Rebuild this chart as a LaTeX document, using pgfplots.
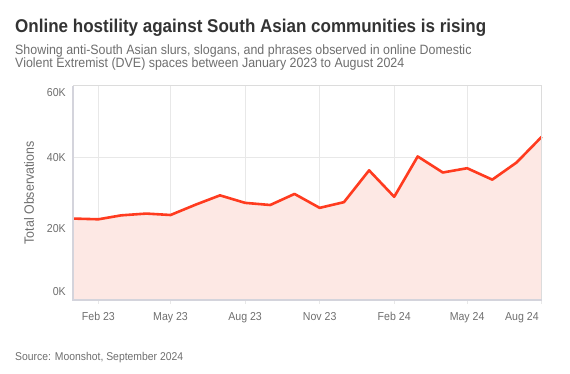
\documentclass[border=0pt]{standalone}
\usepackage{pgfplots}
\pgfplotsset{compat=1.18}
\usepackage{fontspec}
\setmainfont{Liberation Sans}[FakeStretch=0.92]
\definecolor{linered}{HTML}{FF3B1F}
\definecolor{fillred}{HTML}{FDE8E4}
\definecolor{gridc}{HTML}{E8E8E8}
\definecolor{framec}{HTML}{DCDCDC}
\definecolor{framed}{HTML}{D4D4DC}
\definecolor{txtgray}{HTML}{6E6E6E}
\definecolor{titlec}{HTML}{333333}
\pgfplotstableread{
day val
0 22800
31 22600
59 23700
90 24200
120 23800
151 26700
181 29300
212 27200
243 26600
273 29700
304 25800
334 27400
365 36300
396 28900
425 40200
456 35700
486 36900
517 33700
547 38500
578 45700
}\datatable
\begin{document}
\begin{tikzpicture}
\path[use as bounding box] (0pt,0pt) rectangle (570pt,-373pt);
\node[anchor=base west, inner sep=0pt, font=\fontsize{18.5}{22}\selectfont\bfseries, text=titlec] at (15pt,-32pt) {Online hostility against South Asian communities is rising};
\node[anchor=base west, inner sep=0pt, font=\fontsize{13.5}{16}\selectfont, text=txtgray] at (15pt,-54pt) {Showing anti-South Asian slurs, slogans, and phrases observed in online Domestic};
\node[anchor=base west, inner sep=0pt, font=\fontsize{13.5}{16}\selectfont, text=txtgray] at (15pt,-67.5pt) {Violent Extremist (DVE) spaces between January 2023 to August 2024};
\node[anchor=base west, inner sep=0pt, font=\fontsize{11.3}{13}\selectfont, text=txtgray] at (15pt,-360pt) {Source: Moonshot, September 2024};
\begin{axis}[
  at={(73.3pt,-300pt)}, anchor=south west,
  scale only axis, width=468.4pt, height=214.3pt,
  xmin=0, xmax=578, ymin=0, ymax=60000,
  axis line style={draw=none},
  xtick={31,120,212,304,396,486,578},
  xticklabels={Feb 23,May 23,Aug 23,Nov 23,Feb 24,May 24,\makebox[0pt][r]{Aug 24\hspace{3pt}}},
  ytick={0,20000,40000,60000},
  yticklabels={\raisebox{8pt}[\height][\depth]{0K},20K,40K,\raisebox{-7pt}[\height][\depth]{60K}},
  scaled y ticks=false,
  xtick pos=bottom, ytick pos=left,
  tick align=outside,
  major tick length=4pt,
  x tick style={gridc, line width=0.8pt},
  y tick style={draw=none},
  grid=major,
  major grid style={gridc, line width=0.8pt},
  tick label style={font=\fontsize{11.5}{13}\selectfont, text=txtgray},
  xticklabel style={yshift=-4.5pt},
  ylabel={Total Observations},
  ylabel style={at={(axis description cs:-0.0946,0.5)}, anchor=center, font=\fontsize{13.5}{16}\selectfont, text=txtgray},
  clip=false,
]
\addplot[fill=fillred, draw=none] table[x=day,y=val]{\datatable} \closedcycle;
\addplot[linered, line width=2.6pt, line join=round] table[x=day,y=val]{\datatable};
\draw[framec, line width=1pt] (rel axis cs:0,0) rectangle (rel axis cs:1,1);
\draw[framed, line width=2pt] (rel axis cs:0,1) -- (rel axis cs:0,0) -- (rel axis cs:1,0);
\end{axis}
\end{tikzpicture}
\end{document}
